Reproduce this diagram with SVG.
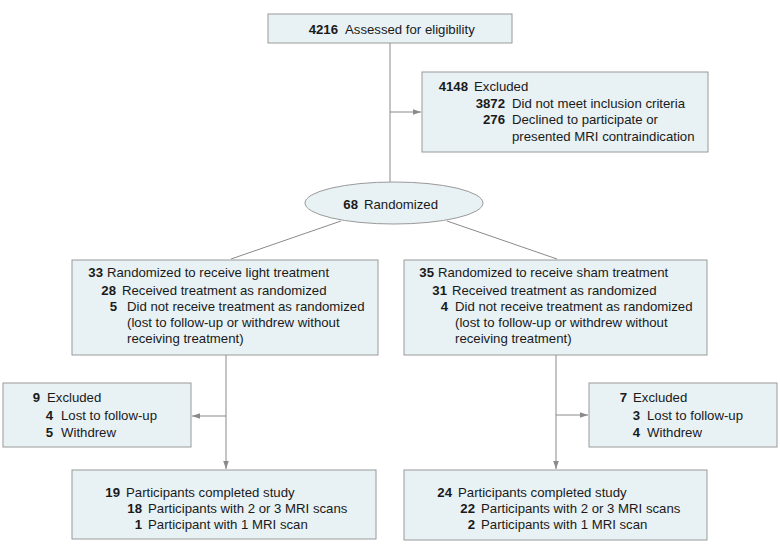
<svg xmlns="http://www.w3.org/2000/svg" width="780" height="553" viewBox="0 0 780 553">
<defs>
<style>
.box{fill:#e8f1f4;stroke:#9a9a9a;stroke-width:1}
.t{font-family:"Liberation Sans",Arial,sans-serif;font-size:13.2px;fill:#1a1a1a}
.n{font-weight:bold;text-anchor:end}
.ln{stroke:#8a8a8a;stroke-width:1;fill:none}
.arr{marker-end:url(#ah)}
</style>
<marker id="ah" viewBox="0 0 10 10" refX="10" refY="5" markerWidth="8" markerHeight="8" markerUnits="userSpaceOnUse" orient="auto">
<path d="M0,1.5 L10,5 L0,8.5 Z" fill="#8a8a8a"/>
</marker>
</defs>
<rect width="780" height="553" fill="#ffffff"/>
<g id="connectors">
<line class="ln" x1="390" y1="43" x2="390" y2="182"/>
<line class="ln arr" x1="390" y1="112" x2="421" y2="112"/>
<line class="ln" x1="341" y1="221" x2="231" y2="259"/>
<line class="ln" x1="447" y1="221" x2="557" y2="259"/>
<line class="ln arr" x1="226" y1="355" x2="226" y2="469"/>
<line class="ln arr" x1="226" y1="416" x2="192" y2="416"/>
<line class="ln arr" x1="556" y1="355" x2="556" y2="469"/>
<line class="ln arr" x1="556" y1="415" x2="588" y2="415"/>
</g>
<g id="assessed">
<rect class="box" x="268" y="14" width="244" height="29"/>
<text class="t n" x="338" y="33.5">4216</text>
<text class="t" x="345" y="33.5">Assessed for eligibility</text>
</g>
<g id="excluded-top">
<rect class="box" x="422" y="72" width="286" height="80"/>
<text class="t n" x="468" y="90.5">4148</text>
<text class="t" x="474" y="90.5">Excluded</text>
<text class="t n" x="505" y="107.5">3872</text>
<text class="t" x="512" y="107.5">Did not meet inclusion criteria</text>
<text class="t n" x="505" y="123.5">276</text>
<text class="t" x="512" y="123.5">Declined to participate or</text>
<text class="t" x="512" y="140.5">presented MRI contraindication</text>
</g>
<g id="randomized">
<ellipse class="box" cx="394" cy="203" rx="89" ry="21"/>
<text class="t n" x="358" y="208.5">68</text>
<text class="t" x="364" y="208.5">Randomized</text>
</g>
<g id="light">
<rect class="box" x="72" y="260" width="306" height="95"/>
<text class="t n" x="103" y="277">33</text>
<text class="t" x="107" y="277">Randomized to receive light treatment</text>
<text class="t n" x="116" y="294.5">28</text>
<text class="t" x="122" y="294.5">Received treatment as randomized</text>
<text class="t n" x="117" y="311">5</text>
<text class="t" x="127" y="311">Did not receive treatment as randomized</text>
<text class="t" x="127" y="327">(lost to follow-up or withdrew without</text>
<text class="t" x="127" y="343">receiving treatment)</text>
</g>
<g id="sham">
<rect class="box" x="404" y="260" width="303" height="95"/>
<text class="t n" x="434" y="277">35</text>
<text class="t" x="438" y="277">Randomized to receive sham treatment</text>
<text class="t n" x="447" y="294.5">31</text>
<text class="t" x="452" y="294.5">Received treatment as randomized</text>
<text class="t n" x="448" y="311">4</text>
<text class="t" x="455" y="311">Did not receive treatment as randomized</text>
<text class="t" x="455" y="327">(lost to follow-up or withdrew without</text>
<text class="t" x="455" y="343">receiving treatment)</text>
</g>
<g id="excluded-light">
<rect class="box" x="3" y="383" width="188" height="64"/>
<text class="t n" x="40" y="402">9</text>
<text class="t" x="47" y="402">Excluded</text>
<text class="t n" x="53" y="420">4</text>
<text class="t" x="61" y="420">Lost to follow-up</text>
<text class="t n" x="53" y="437">5</text>
<text class="t" x="61" y="437">Withdrew</text>
</g>
<g id="excluded-sham">
<rect class="box" x="589" y="383" width="188" height="64"/>
<text class="t n" x="627" y="402">7</text>
<text class="t" x="633" y="402">Excluded</text>
<text class="t n" x="640" y="420">3</text>
<text class="t" x="647" y="420">Lost to follow-up</text>
<text class="t n" x="640" y="437">4</text>
<text class="t" x="647" y="437">Withdrew</text>
</g>
<g id="completed-light">
<rect class="box" x="72" y="470" width="304" height="69"/>
<text class="t n" x="120" y="496.5">19</text>
<text class="t" x="126" y="496.5">Participants completed study</text>
<text class="t n" x="142" y="513">18</text>
<text class="t" x="148" y="513">Participants with 2 or 3 MRI scans</text>
<text class="t n" x="142" y="529">1</text>
<text class="t" x="148" y="529">Participant with 1 MRI scan</text>
</g>
<g id="completed-sham">
<rect class="box" x="404" y="470" width="303" height="70"/>
<text class="t n" x="452" y="496.5">24</text>
<text class="t" x="458" y="496.5">Participants completed study</text>
<text class="t n" x="475" y="513">22</text>
<text class="t" x="481" y="513">Participants with 2 or 3 MRI scans</text>
<text class="t n" x="475" y="529">2</text>
<text class="t" x="481" y="529">Participants with 1 MRI scan</text>
</g>
</svg>
